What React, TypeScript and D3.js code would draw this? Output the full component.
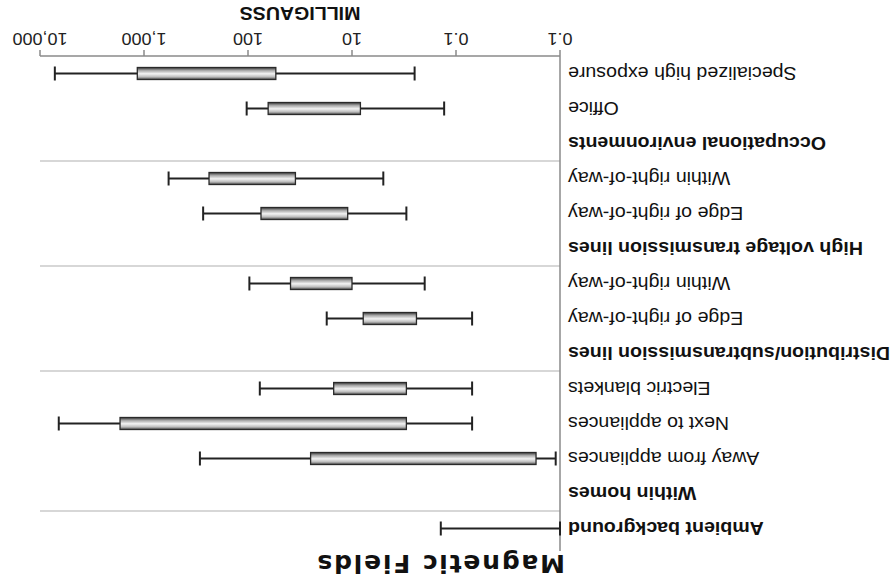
import * as d3 from 'd3'

// rows top-to-bottom in the chart's own orientation (the picture is turned upside down)
const rowLabels = [
  'Ambient background',
  'Within homes',
  'Away from appliances',
  'Next to appliances',
  'Electric blankets',
  'Distribution/subtransmission lines',
  'Edge of right-of-way',
  'Within right-of-way',
  'High voltage transmission lines',
  'Edge of right-of-way',
  'Within right-of-way',
  'Occupational environments',
  'Office',
  'Specialized high exposure',
]
const headerRows = [true, true, false, false, false, true, false, false, true, false, false, true, false, false]
// separators sit above these rows
const groupStarts = [1, 5, 8, 11]

// milligauss: whisker low, box low, box high, whisker high (null = nothing drawn)
const lowValues = [0.1, null, 0.11, 0.7, 0.7, null, 0.7, 2, null, 3, 5, null, 1.3, 2.5]
const q1Values = [null, null, 0.17, 3, 3, null, 2.4, 10, null, 11, 35, null, 8.3, 54]
const q3Values = [null, null, 25, 1700, 15, null, 7.8, 39, null, 75, 237, null, 64, 1160]
const highValues = [1.4, null, 290, 6600, 77, null, 17.5, 97, null, 270, 580, null, 103, 7200]

const tickValues = [0.1, 1, 10, 100, 1000, 10000]
const tickLabels = ['0.1', '0.1', '10', '100', '1,000', '10,000']

const W = 895
const H = 583
const SX = 1.12

export default function App() {
  const x = d3.scaleLog().domain([0.1, 10000]).range([335, 855])
  const y = d3.scaleBand().domain(d3.range(rowLabels.length).map(String)).range([37, 527])
  const bw = y.bandwidth()
  const cy = (i: number) => (y(String(i)) as number) + bw / 2

  return (
    <svg width={W} height={H} style={{ position: 'absolute', left: 0, top: 0, background: '#fff' }}
      fontFamily="'Liberation Sans', Arial, sans-serif">
      <defs>
        <linearGradient id="boxFill" x1="0" y1="0" x2="0" y2="1">
          <stop offset="0" stopColor="#4a4a4a" />
          <stop offset="0.22" stopColor="#bdbdbd" />
          <stop offset="0.48" stopColor="#f2f2f2" />
          <stop offset="0.75" stopColor="#a8a8a8" />
          <stop offset="1" stopColor="#3c3c3c" />
        </linearGradient>
      </defs>
      <g transform={`rotate(180 ${W / 2} ${H / 2})`}>
        <text x={330} y={28} fontFamily="'DejaVu Sans', sans-serif" fontWeight="bold" fontSize={25}
          letterSpacing={1.8} fill="#111">Magnetic Fields</text>

        {groupStarts.map(i => (
          <line key={i} x1={x(0.1)} x2={x(10000)} y1={y(String(i))} y2={y(String(i))}
            stroke="#b0b0b0" strokeWidth={1.2} />
        ))}

        {/* axes */}
        <line x1={x(0.1)} x2={x(10000)} y1={527} y2={527} stroke="#8a8a8a" strokeWidth={1.5} />
        <line x1={x(0.1)} x2={x(0.1)} y1={32} y2={527} stroke="#8a8a8a" strokeWidth={1.5} />
        {tickValues.map((v, i) => (
          <g key={v}>
            <line x1={x(v)} x2={x(v)} y1={527} y2={533} stroke="#8a8a8a" strokeWidth={1.5} />
            <g transform={`translate(${x(v)},550) scale(${SX},1)`}>
              <text textAnchor="middle" fontSize={16} fill="#222">{tickLabels[i]}</text>
            </g>
          </g>
        ))}
        <g transform={`translate(${(x(0.1) + x(10000)) / 2},576) scale(${SX},1)`}>
          <text textAnchor="middle" fontSize={17.5} fontWeight="bold" fill="#111">MILLIGAUSS</text>
        </g>

        {rowLabels.map((lab, i) => (
          <g key={i} transform={`translate(327,${cy(i)}) scale(${SX},1)`}>
            <text textAnchor="end" dy="0.35em" fontSize={17.5}
              fontWeight={headerRows[i] ? 'bold' : 'normal'} fill="#111">{lab}</text>
          </g>
        ))}

        {rowLabels.map((_, i) => {
          const lo = lowValues[i]
          const hi = highValues[i]
          if (lo == null || hi == null) return null
          const q1 = q1Values[i]
          const q3 = q3Values[i]
          const c = cy(i)
          return (
            <g key={'b' + i}>
              <line x1={x(lo)} x2={x(hi)} y1={c} y2={c} stroke="#222" strokeWidth={2} />
              <line x1={x(lo)} x2={x(lo)} y1={c - 7} y2={c + 7} stroke="#222" strokeWidth={2} />
              <line x1={x(hi)} x2={x(hi)} y1={c - 7} y2={c + 7} stroke="#222" strokeWidth={2} />
              {q1 != null && q3 != null && (
                <rect x={x(q1)} y={c - 6} width={x(q3) - x(q1)} height={12}
                  fill="url(#boxFill)" stroke="#2a2a2a" strokeWidth={1.3} />
              )}
            </g>
          )
        })}
      </g>
    </svg>
  )
}
